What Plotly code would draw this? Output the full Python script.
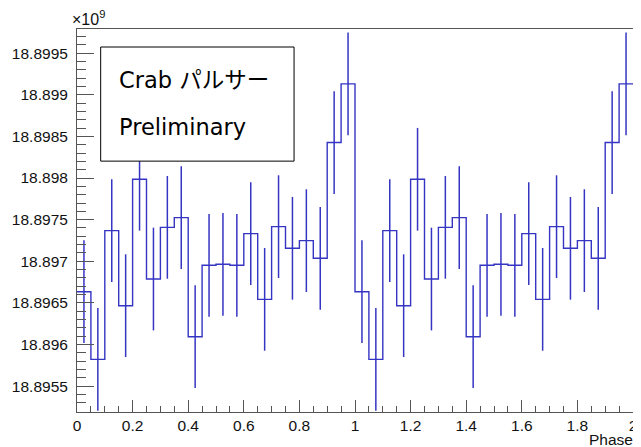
import numpy as np
import plotly.graph_objects as go

# ---- data (values in units of 1e9) ----
phase_min, phase_max, n_bins = 0.0, 2.0, 40
cycle_values = [18.896635, 18.895822, 18.897368, 18.896467, 18.897985,
                18.896787, 18.897408, 18.897524, 18.896094, 18.896952,
                18.896964, 18.896952, 18.897332, 18.896543, 18.897416,
                18.897156, 18.897248, 18.897036, 18.898426, 18.899131]
cycle_errors = [0.000617] * 20
values = cycle_values + cycle_values          # phase shown twice (0-1, 1-2)
errors = cycle_errors + cycle_errors

x_tick_vals = [0, 0.2, 0.4, 0.6, 0.8, 1.0, 1.2, 1.4, 1.6, 1.8, 2.0]
x_tick_text = ["0", "0.2", "0.4", "0.6", "0.8", "1", "1.2", "1.4", "1.6", "1.8", "2"]
y_tick_vals = [18.8955, 18.896, 18.8965, 18.897, 18.8975, 18.898, 18.8985, 18.899, 18.8995]
y_tick_text = ["18.8955", "18.896", "18.8965", "18.897", "18.8975", "18.898", "18.8985", "18.899", "18.8995"]
y_range = [18.89519, 18.89979]

legend_lines = ["Crab パルサー", "Preliminary"]

edges = np.linspace(phase_min, phase_max, n_bins + 1)
centers = 0.5 * (edges[:-1] + edges[1:])

BLUE = "#3535c4"
FRAME = "#555555"
TICKFONT = dict(family="Liberation Sans, Arial, sans-serif", size=15.5, color="#111111")

fig = go.Figure()
# histogram step outline
fig.add_trace(go.Scatter(
    x=edges, y=values + [values[-1]], mode="lines",
    line=dict(color=BLUE, width=1.4, shape="hv"), hoverinfo="skip"))
# error bars at bin centres
fig.add_trace(go.Scatter(
    x=centers, y=values, mode="markers",
    marker=dict(size=1, color="rgba(0,0,0,0)"),
    error_y=dict(type="data", array=errors, visible=True, width=0,
                 thickness=1.5, color=BLUE),
    hoverinfo="skip"))

# page has an 8px body margin: size the figure so the plot area lands in place
fig.update_layout(
    width=633, height=439,
    margin=dict(l=66, r=3.5, t=21, b=35),
    paper_bgcolor="white", plot_bgcolor="white",
    showlegend=False,
    xaxis=dict(range=[phase_min, phase_max], showgrid=False, zeroline=False,
               showline=True, linecolor=FRAME, linewidth=1, mirror=True,
               tickmode="array", tickvals=x_tick_vals, ticktext=x_tick_text,
               ticks="inside", ticklen=12, tickcolor=FRAME, tickwidth=1,
               minor=dict(tickmode="linear", tick0=0, dtick=0.05, ticks="inside",
                          ticklen=6, tickcolor=FRAME, tickwidth=1, showgrid=False),
               tickfont=TICKFONT, ticklabelstandoff=-1),
    yaxis=dict(range=y_range, showgrid=False, zeroline=False,
               showline=True, linecolor=FRAME, linewidth=1, mirror=True,
               tickmode="array", tickvals=y_tick_vals, ticktext=y_tick_text,
               ticks="inside", ticklen=17, tickcolor=FRAME, tickwidth=1,
               minor=dict(tickmode="linear", tick0=18.8955, dtick=0.0001, ticks="inside",
                          ticklen=9, tickcolor=FRAME, tickwidth=1, showgrid=False),
               tickfont=TICKFONT, ticklabelstandoff=5),
)

# legend-like text box
fig.add_shape(type="rect", xref="paper", yref="paper",
              x0=0.0426, x1=0.3904, y0=0.655, y1=0.953,
              line=dict(color="black", width=1), fillcolor="white", layer="above")
box_font = dict(family="DejaVu Sans, Noto Sans CJK JP, sans-serif", size=22.5, color="black")
fig.add_annotation(xref="paper", yref="paper", x=0.072, y=0.866, xanchor="left",
                   yanchor="middle", text=legend_lines[0], showarrow=False, font=box_font)
fig.add_annotation(xref="paper", yref="paper", x=0.072, y=0.744, xanchor="left",
                   yanchor="middle", text=legend_lines[1], showarrow=False, font=box_font)

# exponent label and axis title
fig.add_annotation(xref="paper", yref="paper", x=-0.012, y=1.0, xanchor="left",
                   yanchor="bottom", yshift=-1, text="×10<sup>9</sup>", showarrow=False,
                   font=dict(family="Liberation Sans, Arial, sans-serif", size=16, color="#111111"))
fig.add_annotation(xref="paper", yref="paper", x=1.0, y=-0.071, xanchor="right",
                   yanchor="middle", xshift=1, borderpad=0, text="Phase", showarrow=False,
                   font=dict(family="Liberation Sans, Arial, sans-serif", size=15.5, color="#111111"))

fig.write_html("out.html")
